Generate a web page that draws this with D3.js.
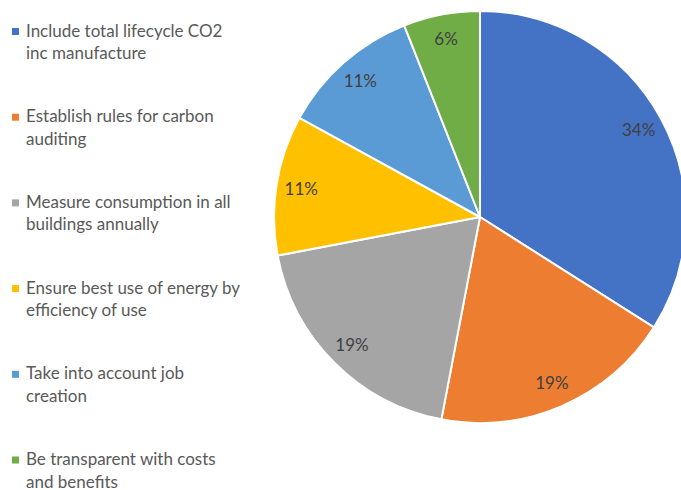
<!DOCTYPE html>
<html>
<head>
<meta charset="utf-8">
<script src="https://cdn.jsdelivr.net/npm/d3@7"></script>
<style>
  html, body { margin: 0; padding: 0; background: #fff; }
  svg { display: block; }
</style>
</head>
<body>
<svg id="chart" width="681" height="490"></svg>
<script>
// Survey priorities and their share of responses (%)
const categories = [
  ["Include total lifecycle CO2", "inc manufacture"],
  ["Establish rules for carbon", "auditing"],
  ["Measure consumption in all", "buildings annually"],
  ["Ensure best use of energy by", "efficiency of use"],
  ["Take into account job", "creation"],
  ["Be transparent with costs", "and benefits"]
];
const values = [34, 19, 19, 11, 11, 6];
const colors = ["#4472C4", "#ED7D31", "#A5A5A5", "#FFC000", "#5B9BD5", "#70AD47"];

const svg = d3.select("#chart");
const fontFamily = "Lato, 'Liberation Sans', sans-serif";

// Pie geometry
const cx = 480, cy = 217, radius = 206, labelRadius = 181;

const data = values.map((v, i) => ({ value: v, label: categories[i], color: colors[i] }));

const pie = d3.pie().value(d => d.value).sort(null);
const arc = d3.arc().innerRadius(0).outerRadius(radius);
const labelArc = d3.arc().innerRadius(labelRadius).outerRadius(labelRadius);

const arcs = pie(data);

const g = svg.append("g").attr("transform", `translate(${cx},${cy})`);

g.selectAll("path.slice")
  .data(arcs)
  .join("path")
  .attr("class", "slice")
  .attr("d", arc)
  .attr("fill", d => d.data.color)
  .attr("stroke", "#fff")
  .attr("stroke-width", 2)
  .attr("stroke-linejoin", "round");

g.selectAll("text.pct")
  .data(arcs)
  .join("text")
  .attr("class", "pct")
  .attr("transform", d => `translate(${labelArc.centroid(d)})`)
  .attr("text-anchor", "middle")
  .attr("dy", "0.35em")
  .attr("font-family", fontFamily)
  .attr("font-size", 17)
  .attr("fill", "#404040")
  .text(d => d.data.value + "%");

// Legend
const legendX = 12, legendTop = 36.5, legendStep = 85.7, lineGap = 22.5;
const legend = svg.append("g");

const items = legend.selectAll("g.item")
  .data(data)
  .join("g")
  .attr("class", "item")
  .attr("transform", (d, i) => `translate(${legendX},${legendTop + i * legendStep})`);

items.append("rect")
  .attr("x", 0)
  .attr("y", -8.5)
  .attr("width", 7)
  .attr("height", 7)
  .attr("fill", d => d.color);

items.append("text")
  .attr("x", 14)
  .attr("y", 0)
  .attr("font-family", fontFamily)
  .attr("font-size", 17)
  .attr("fill", "#595959")
  .selectAll("tspan")
  .data(d => d.label)
  .join("tspan")
  .attr("x", 14)
  .attr("dy", (d, i) => i === 0 ? 0 : lineGap)
  .text(d => d);
</script>
</body>
</html>
